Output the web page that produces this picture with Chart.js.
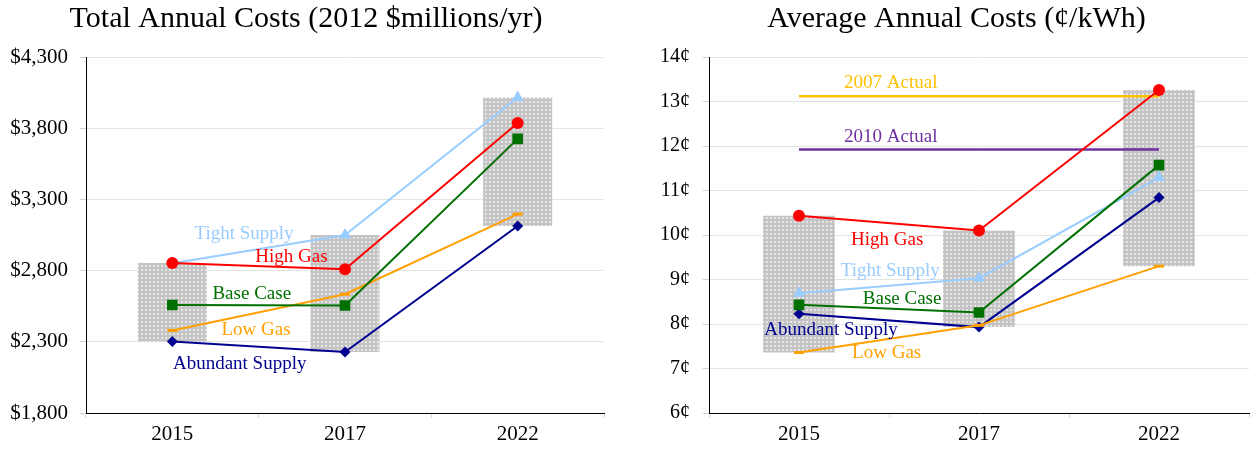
<!DOCTYPE html>
<html>
<head>
<meta charset="utf-8">
<title>Annual Costs</title>
<script src="https://cdn.jsdelivr.net/npm/chart.js@4.4.0/dist/chart.umd.min.js"></script>
<style>
  html, body { margin: 0; padding: 0; background: #fff; overflow: hidden; }
  #wrap { position: relative; width: 1257px; height: 451px; }
  canvas { position: absolute; top: 0; }
  #totalChart { left: 0; }
  #averageChart { left: 657px; }
</style>
</head>
<body>
<div id="wrap">
  <canvas id="totalChart" width="612" height="451"></canvas>
  <canvas id="averageChart" width="600" height="451"></canvas>
</div>
<script>
const years = ['2015', '2017', '2022'];

// Total annual costs (2012 $millions/yr)
const totalHighGas = [2854, 2809, 3837];
const totalBase = [2558, 2555, 3725];
const totalLowGas = [2380, 2634, 3197];
const totalAbundant = [2302, 2228, 3113];
const totalTight = [2852, 3050, 4015];
const totalTicks = [1800, 2300, 2800, 3300, 3800, 4300];

// Average annual costs (cents/kWh)
const avgHighGas = [10.43, 10.10, 13.26];
const avgBase = [8.43, 8.26, 11.57];
const avgLowGas = [7.36, 7.97, 9.30];
const avgAbundant = [8.23, 7.93, 10.84];
const avgTight = [8.69, 9.03, 11.29];
const avgTicks = [6, 7, 8, 9, 10, 11, 12, 13, 14];
const actual2007 = 13.12;
const actual2010 = 11.92;

const FONT = "'Liberation Serif', 'Times New Roman', serif";
const RED = '#ff0000';
const GREEN = '#007000';
const ORANGE = '#ffa000';
const NAVY = '#000090';
const SKY = '#99ccff';
const GOLD = '#ffc000';
const PURPLE = '#7030a0';

Chart.defaults.font.family = FONT;
Chart.defaults.color = '#000';
Chart.defaults.animation = false;

// gray dotted fill for the scenario range boxes
function dotPattern() {
  const tile = document.createElement('canvas');
  tile.width = 4;
  tile.height = 4;
  const c = tile.getContext('2d');
  c.fillStyle = '#c4c4c4';
  c.fillRect(0, 0, 4, 4);
  c.fillStyle = '#e6e6e6';
  c.fillRect(1, 1, 2, 2);
  return c.createPattern(tile, 'repeat');
}

function rangeBars(seriesList) {
  return {
    type: 'bar',
    data: years.map((_, i) => {
      const vals = seriesList.map(s => s[i]);
      return [Math.min(...vals), Math.max(...vals)];
    }),
    backgroundColor: dotPattern(),
    borderWidth: 0,
    barPercentage: 0.4,
    categoryPercentage: 1,
    order: 1
  };
}

function scenario(label, data, color, style, radius) {
  return {
    type: 'line',
    label: label,
    data: data,
    borderColor: color,
    backgroundColor: color,
    borderWidth: 2,
    pointStyle: style,
    pointRadius: radius,
    pointBackgroundColor: color,
    pointBorderColor: color,
    pointBorderWidth: style === 'line' ? 3 : 0,
    tension: 0,
    fill: false,
    order: 0
  };
}

function flatLine(label, value, color) {
  return {
    type: 'line',
    label: label,
    data: years.map(() => value),
    borderColor: color,
    borderWidth: 2.5,
    pointRadius: 0,
    fill: false,
    order: 0
  };
}

// text labels placed in data coordinates (category index, axis value)
function labelPlugin(items) {
  return {
    id: 'seriesLabels',
    afterDatasetsDraw(chart) {
      const { ctx, scales: { x, y } } = chart;
      ctx.save();
      ctx.font = '19px ' + FONT;
      ctx.textAlign = 'center';
      ctx.textBaseline = 'middle';
      items.forEach(item => {
        ctx.fillStyle = item.color;
        ctx.fillText(item.text, x.getPixelForValue(item.at), y.getPixelForValue(item.value));
      });
      ctx.restore();
    }
  };
}

function buildOptions(title, ticks, yWidth, yPad, padLeft, padRight, format, yFont) {
  return {
    responsive: false,
    events: [],
    layout: { padding: { left: padLeft, right: padRight, top: 0, bottom: 0 } },
    plugins: {
      legend: { display: false },
      tooltip: { enabled: false },
      title: {
        display: true,
        text: title,
        font: { size: 30, weight: 'normal', lineHeight: 1 },
        color: '#000',
        padding: { top: 4, bottom: 23 }
      }
    },
    scales: {
      x: {
        type: 'category',
        offset: true,
        grid: { offset: true, drawOnChartArea: false, tickLength: 5, color: '#d8d8d8' },
        border: { color: '#000', width: 1 },
        ticks: { font: { size: 21 }, color: '#000', padding: 4 },
        afterFit(scale) { scale.height = 38; }
      },
      y: {
        min: ticks[0],
        max: ticks[ticks.length - 1],
        afterBuildTicks(scale) { scale.ticks = ticks.map(v => ({ value: v })); },
        grid: { color: '#e4e4e4', tickLength: 6, tickColor: '#d0d0d0' },
        border: { color: '#000', width: 1 },
        ticks: { font: { size: yFont }, color: '#000', padding: yPad, callback: format },
        afterFit(scale) { scale.width = yWidth; }
      }
    }
  };
}

const totalSeries = [totalHighGas, totalBase, totalLowGas, totalAbundant, totalTight];

new Chart(document.getElementById('totalChart'), {
  type: 'line',
  data: {
    labels: years,
    datasets: [
      scenario('High Gas', totalHighGas, RED, 'circle', 6),
      scenario('Base Case', totalBase, GREEN, 'rect', 7.5),
      scenario('Low Gas', totalLowGas, ORANGE, 'line', 5),
      scenario('Abundant Supply', totalAbundant, NAVY, 'rectRot', 5.5),
      scenario('Tight Supply', totalTight, SKY, 'triangle', 7),
      rangeBars(totalSeries)
    ]
  },
  options: buildOptions('Total Annual Costs (2012 $millions/yr)', totalTicks, 81, 12, 5, 5,
    v => '$' + v.toLocaleString('en-US'), 21),
  plugins: [labelPlugin([
    { text: 'Tight Supply', color: SKY, at: 0.415, value: 3060 },
    { text: 'High Gas', color: RED, at: 0.69, value: 2893 },
    { text: 'Base Case', color: GREEN, at: 0.46, value: 2635 },
    { text: 'Low Gas', color: ORANGE, at: 0.485, value: 2383 },
    { text: 'Abundant Supply', color: NAVY, at: 0.39, value: 2141 }
  ])]
});

const avgSeries = [avgHighGas, avgBase, avgLowGas, avgAbundant, avgTight];

new Chart(document.getElementById('averageChart'), {
  type: 'line',
  data: {
    labels: years,
    datasets: [
      scenario('High Gas', avgHighGas, RED, 'circle', 6),
      flatLine('2007 Actual', actual2007, GOLD),
      flatLine('2010 Actual', actual2010, PURPLE),
      scenario('Base Case', avgBase, GREEN, 'rect', 7.5),
      scenario('Low Gas', avgLowGas, ORANGE, 'line', 5),
      scenario('Abundant Supply', avgAbundant, NAVY, 'rectRot', 5.5),
      scenario('Tight Supply', avgTight, SKY, 'triangle', 7),
      rangeBars(avgSeries)
    ]
  },
  options: buildOptions('Average Annual Costs (\u00a2/kWh)', avgTicks, 52, 13, 0, 1,
    v => v + '\u00a2', 20),
  plugins: [labelPlugin([
    { text: '2007 Actual', color: GOLD, at: 0.51, value: 13.41 },
    { text: '2010 Actual', color: PURPLE, at: 0.51, value: 12.21 },
    { text: 'High Gas', color: RED, at: 0.49, value: 9.89 },
    { text: 'Tight Supply', color: SKY, at: 0.507, value: 9.195 },
    { text: 'Base Case', color: GREEN, at: 0.573, value: 8.564 },
    { text: 'Abundant Supply', color: NAVY, at: 0.178, value: 7.864 },
    { text: 'Low Gas', color: ORANGE, at: 0.487, value: 7.348 }
  ])]
});
</script>
</body>
</html>
